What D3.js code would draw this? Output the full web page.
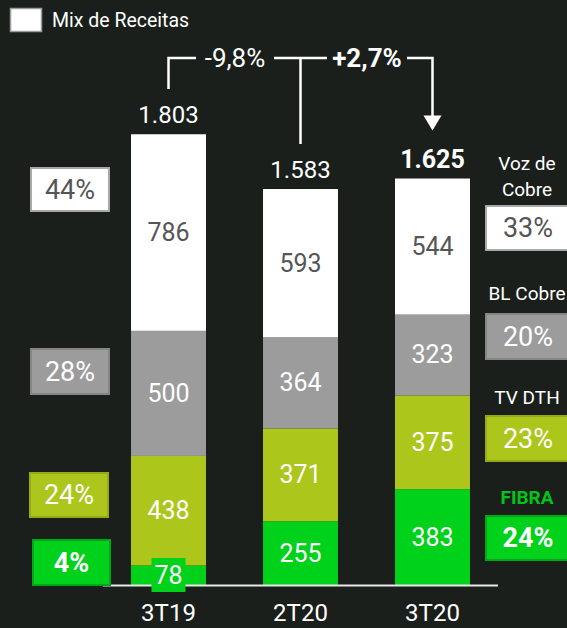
<!DOCTYPE html>
<html lang="pt">
<head>
<meta charset="UTF-8">
<title>Mix de Receitas</title>
<script src="https://d3js.org/d3.v7.min.js"></script>
<style>
  body { margin: 0; background: #1a1f1c; }
  svg { display: block; font-family: Roboto, "Liberation Sans", sans-serif; }
</style>
</head>
<body>
<svg></svg>
<script>
var categories = ["3T19", "2T20", "3T20"];
var fibra = [78, 255, 383];
var tvDth = [438, 371, 375];
var blCobre = [500, 364, 323];
var vozCobre = [786, 593, 544];
var totals = ["1.803", "1.583", "1.625"];
var totalValues = [1803, 1583, 1625];
var seriesNames = ["FIBRA", "TV DTH", "BL Cobre", "Voz de Cobre"];
var shares3T19 = ["4%", "24%", "28%", "44%"];
var shares3T20 = ["24%", "23%", "20%", "33%"];
var growth = ["-9,8%", "+2,7%"];
var legendLabel = "Mix de Receitas";

var width = 567, height = 628;
var svg = d3.select("svg").attr("width", width).attr("height", height);

var colors = ["#00d11a", "#adc61b", "#9c9c9c", "#ffffff"];
var borders = ["#00a816", "#94aa17", "#858585", "#a8a8a8"];
var textColors = ["#ffffff", "#ffffff", "#ffffff", "#555555"];

var x = d3.scaleBand().domain(categories).range([74, 527]).padding(0.432);
var y = d3.scaleLinear().domain([0, 1803]).range([585, 134]);

// stack the four series
var rows = categories.map(function (c, i) {
    return {cat: c, fibra: fibra[i], tv: tvDth[i], bl: blCobre[i], voz: vozCobre[i]};
});
var keys = ["fibra", "tv", "bl", "voz"];
var stacked = d3.stack().keys(keys)(rows);

var layers = svg.selectAll("g.layer")
    .data(stacked)
    .enter().append("g")
    .attr("class", "layer")
    .attr("fill", function (d, i) { return colors[i]; });

layers.selectAll("rect")
    .data(function (d) { return d; })
    .enter().append("rect")
    .attr("x", function (d) { return x(d.data.cat); })
    .attr("y", function (d) { return y(d[1]); })
    .attr("width", x.bandwidth())
    .attr("height", function (d) { return y(d[0]) - y(d[1]); });

// baseline
svg.append("line")
    .attr("x1", 103).attr("x2", 498)
    .attr("y1", y(0) + 0.5).attr("y2", y(0) + 0.5)
    .attr("stroke", "#e8e8e8").attr("stroke-width", 2);

// value labels inside segments (the tiny 3T19 fibra one gets its own box)
stacked.forEach(function (layer, li) {
    layer.forEach(function (d, ci) {
        var cx = x(d.data.cat) + x.bandwidth() / 2;
        var cy = (y(d[0]) + y(d[1])) / 2;
        var small = (y(d[0]) - y(d[1])) < 30;
        if (small) {
            svg.append("rect")
                .attr("x", cx - 17).attr("y", y(0) - 27)
                .attr("width", 34).attr("height", 34)
                .attr("fill", colors[li]);
            cy = y(0) - 10;
        }
        svg.append("text")
            .attr("x", cx).attr("y", cy)
            .attr("text-anchor", "middle")
            .attr("dominant-baseline", "central")
            .attr("font-size", 25)
            .attr("fill", textColors[li])
            .text(d.data[keys[li]]);
    });
});

// category labels
svg.selectAll("text.cat")
    .data(categories)
    .enter().append("text")
    .attr("class", "cat")
    .attr("x", function (d) { return x(d) + x.bandwidth() / 2; })
    .attr("y", 613)
    .attr("text-anchor", "middle")
    .attr("dominant-baseline", "central")
    .attr("font-size", 24)
    .attr("fill", "#ffffff")
    .text(function (d) { return d; });

// totals
svg.selectAll("text.total")
    .data(totals)
    .enter().append("text")
    .attr("class", "total")
    .attr("x", function (d, i) { return x(categories[i]) + x.bandwidth() / 2; })
    .attr("y", function (d, i) { return y(totalValues[i]) - 19; })
    .attr("text-anchor", "middle")
    .attr("dominant-baseline", "central")
    .attr("font-size", function (d, i) { return i === 2 ? 25 : 24; })
    .attr("font-weight", function (d, i) { return i === 2 ? "bold" : "normal"; })
    .attr("fill", "#ffffff")
    .text(function (d) { return d; });

// growth brackets
var cx = categories.map(function (c) { return x(c) + x.bandwidth() / 2; });
var bracketY = 58;
var line = svg.append("g").attr("stroke", "#ffffff").attr("stroke-width", 2.5).attr("fill", "none");
line.append("path").attr("d", "M" + cx[0] + "," + (y(totalValues[0]) - 45) + "V" + bracketY + "H196");
line.append("path").attr("d", "M274," + bracketY + "H327");
line.append("path").attr("d", "M" + cx[1] + "," + bracketY + "V" + (y(totalValues[1]) - 45));
line.append("path").attr("d", "M407," + bracketY + "H" + cx[2] + "V" + (y(totalValues[2]) - 62));
svg.append("path")
    .attr("d", "M" + (cx[2] - 9) + "," + (y(totalValues[2]) - 63) +
        "L" + (cx[2] + 9) + "," + (y(totalValues[2]) - 63) +
        "L" + cx[2] + "," + (y(totalValues[2]) - 48) + "Z")
    .attr("fill", "#ffffff");

svg.append("text")
    .attr("x", 235).attr("y", bracketY)
    .attr("text-anchor", "middle").attr("dominant-baseline", "central")
    .attr("font-size", 26).attr("fill", "#ffffff")
    .text(growth[0]);
svg.append("text")
    .attr("x", 367).attr("y", bracketY)
    .attr("text-anchor", "middle").attr("dominant-baseline", "central")
    .attr("font-size", 26).attr("font-weight", "bold").attr("fill", "#ffffff")
    .text(growth[1]);

// legend
svg.append("rect")
    .attr("x", 10.5).attr("y", 8.5).attr("width", 31).attr("height", 23)
    .attr("fill", "#ffffff").attr("stroke", "#9a9a9a").attr("stroke-width", 1.5);
svg.append("text")
    .attr("x", 52).attr("y", 20)
    .attr("dominant-baseline", "central")
    .attr("font-size", 19.5).attr("fill", "#ffffff")
    .text(legendLabel);

// share boxes
function shareBox(x0, y0, w, h, i, label) {
    svg.append("rect")
        .attr("x", x0 + 1).attr("y", y0 + 1)
        .attr("width", w - 2).attr("height", h - 2)
        .attr("fill", colors[i]).attr("stroke", borders[i]).attr("stroke-width", 2);
    svg.append("text")
        .attr("x", x0 + w / 2).attr("y", y0 + h / 2)
        .attr("text-anchor", "middle").attr("dominant-baseline", "central")
        .attr("font-size", 27)
        .attr("font-weight", i === 0 ? "bold" : "normal")
        .attr("fill", textColors[i])
        .text(label);
}

var leftBoxes = [[32, 539, 79, 47], [29, 472, 80, 46], [30, 348, 80, 47], [30, 167, 80, 45]];
var rightBoxes = [[485, 515, 86, 46], [485, 415, 86, 47], [485, 313, 86, 47], [485, 205, 86, 46]];
leftBoxes.forEach(function (b, i) { shareBox(b[0], b[1], b[2], b[3], i, shares3T19[i]); });
rightBoxes.forEach(function (b, i) { shareBox(b[0], b[1], b[2], b[3], i, shares3T20[i]); });

// series names on the right
var nameRows = [[["FIBRA"], 497], [["TV DTH"], 397], [["BL Cobre"], 293], [["Voz de", "Cobre"], 163]];
nameRows.forEach(function (r, i) {
    r[0].forEach(function (t, k) {
        svg.append("text")
            .attr("x", 527).attr("y", r[1] + k * 26)
            .attr("text-anchor", "middle").attr("dominant-baseline", "central")
            .attr("font-size", 19)
            .attr("font-weight", i === 0 ? "bold" : "normal")
            .attr("fill", i === 0 ? "#00c41a" : "#ffffff")
            .text(i === 3 ? t : seriesNames[i]);
    });
});
</script>
</body>
</html>
